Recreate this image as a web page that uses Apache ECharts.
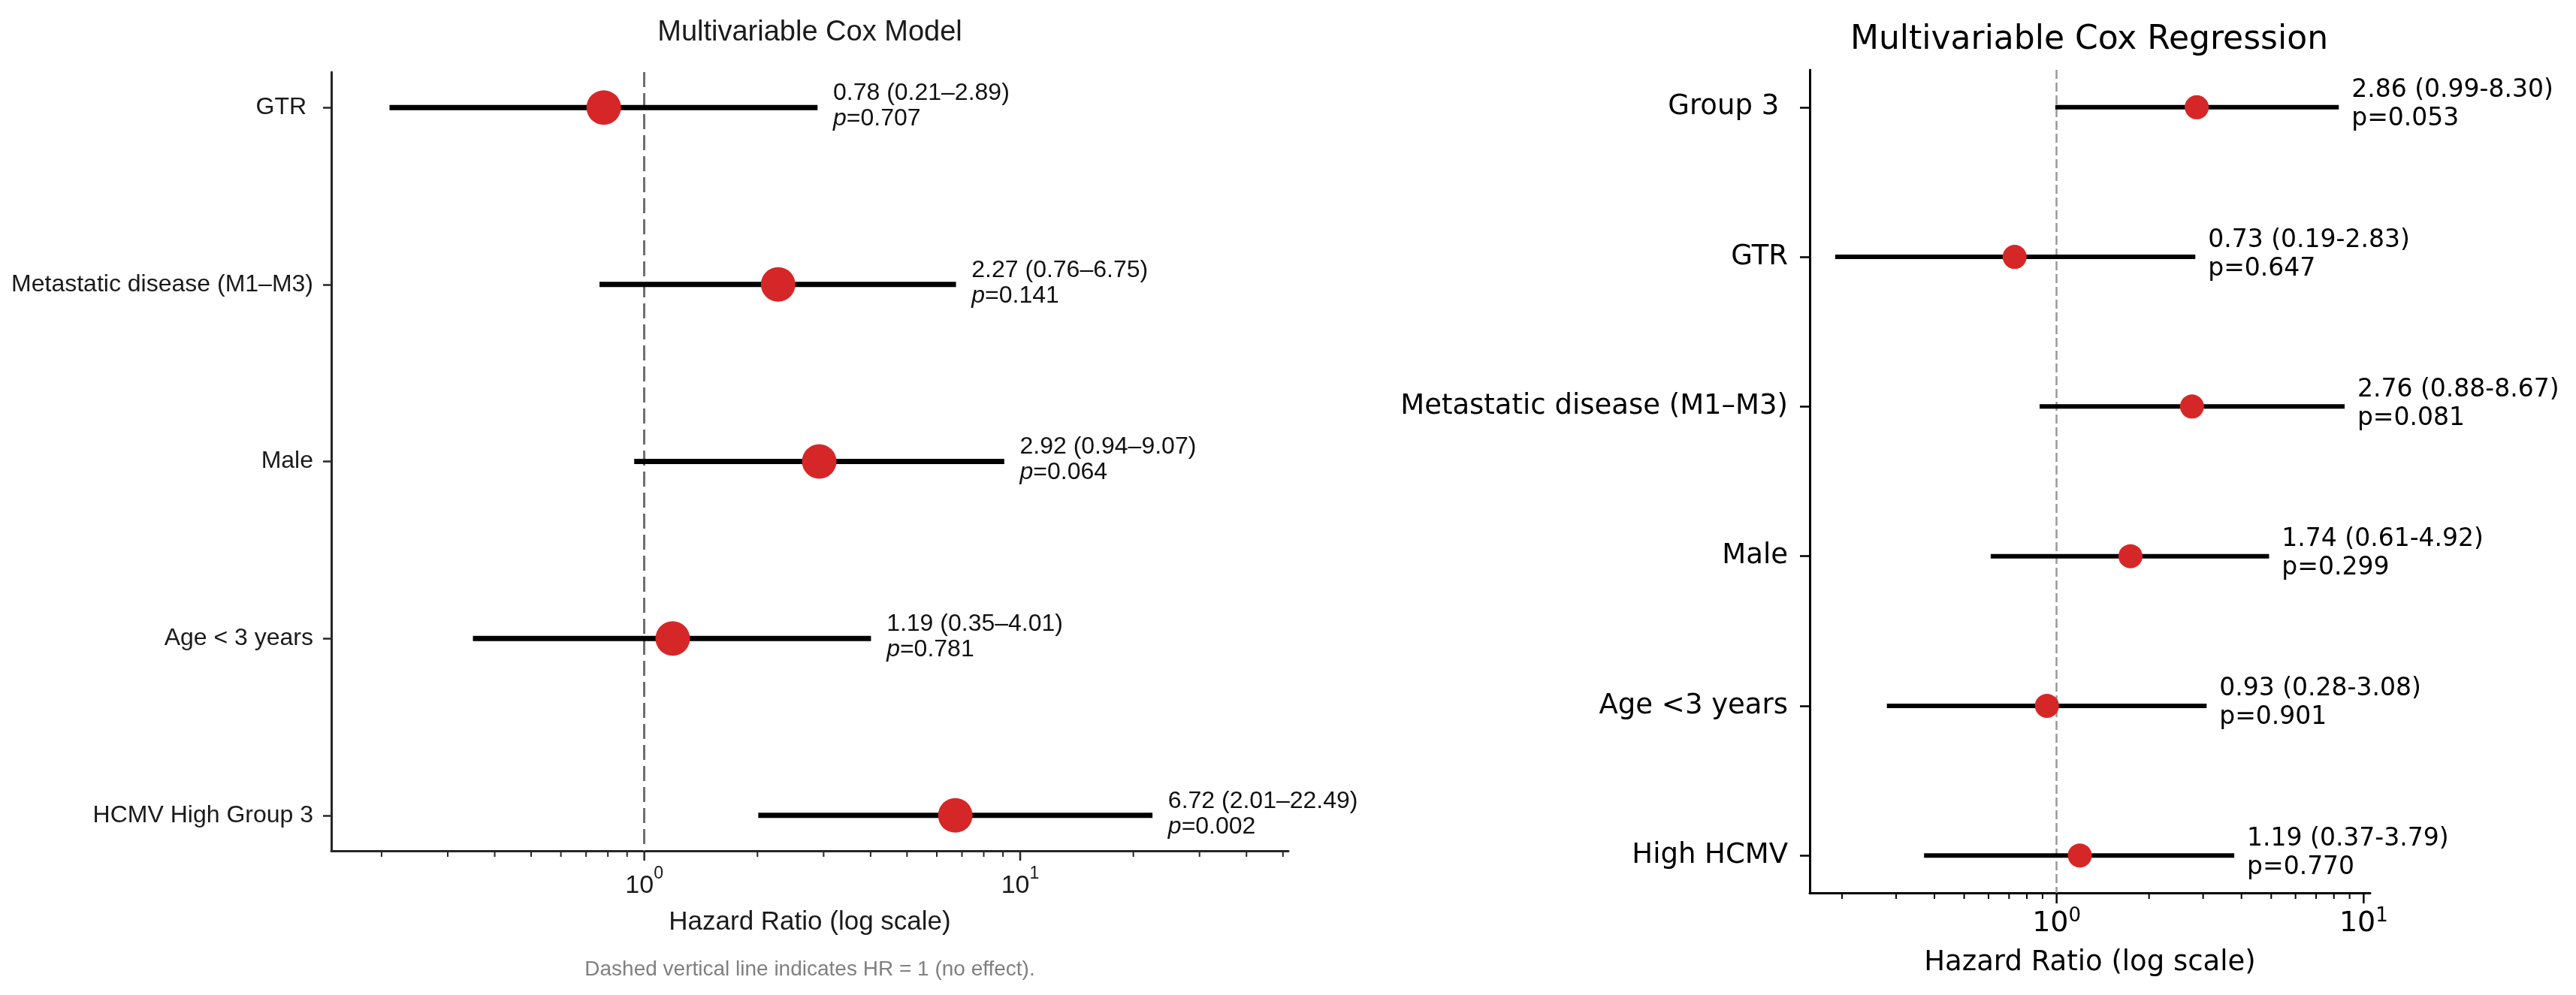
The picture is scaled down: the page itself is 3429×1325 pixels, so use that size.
<!DOCTYPE html>
<html>
<head>
<meta charset="utf-8">
<title>Multivariable Cox</title>
<script src="https://cdn.jsdelivr.net/npm/echarts@6/dist/echarts.min.js"></script>
<style>
  html, body { margin: 0; padding: 0; background: #fff; }
  #main { width: 3429px; height: 1325px; }
</style>
</head>
<body>
<div id="main"></div>
<script>
// left panel - Multivariable Cox Model (top to bottom)
const leftNames = ['GTR ', 'Metastatic disease (M1–M3)', 'Male', 'Age < 3 years', 'HCMV High Group 3'];
const leftHR = [0.78, 2.27, 2.92, 1.19, 6.72];
const leftLo = [0.21, 0.76, 0.94, 0.35, 2.01];
const leftHi = [2.89, 6.75, 9.07, 4.01, 22.49];
const leftP = [0.707, 0.141, 0.064, 0.781, 0.002];

// right panel - Multivariable Cox Regression (top to bottom)
const rightNames = ['Group 3 ', 'GTR', 'Metastatic disease (M1–M3)', 'Male', 'Age <3 years', 'High HCMV'];
const rightHR = [2.86, 0.73, 2.76, 1.74, 0.93, 1.19];
const rightLo = [0.99, 0.19, 0.88, 0.61, 0.28, 0.37];
const rightHi = [8.30, 2.83, 8.67, 4.92, 3.08, 3.79];
const rightP = [0.053, 0.647, 0.081, 0.299, 0.901, 0.770];

// log axis ticks
const majorTicks = [1, 10];
const leftMinorTicks = [0.2, 0.3, 0.4, 0.5, 0.6, 0.7, 0.8, 0.9, 2, 3, 4, 5, 6, 7, 8, 9, 20, 30, 40, 50];
const rightMinorTicks = [0.2, 0.3, 0.4, 0.5, 0.6, 0.7, 0.8, 0.9, 2, 3, 4, 5, 6, 7, 8, 9];

const RED = '#d62728';
const ARIAL = 'Liberation Sans, Arial, sans-serif';
const DEJAVU = 'DejaVu Sans, sans-serif';

// "10^n" labels only on whole powers
function powLabel(v) {
  const e = Math.log10(v);
  if (Math.abs(e - Math.round(e)) > 1e-6) return '';
  return '{b|10}{s|' + Math.round(e) + '}';
}

// CI whiskers, drawn through the axes
function ciSeries(gi, lo, hi, width) {
  return {
    type: 'custom', xAxisIndex: gi, yAxisIndex: gi, z: 3, silent: true,
    data: lo.map((v, i) => [v, hi[i], i]),
    encode: { x: [0, 1], y: 2 },
    renderItem: (params, api) => {
      const a = api.coord([api.value(0), api.value(2)]);
      const b = api.coord([api.value(1), api.value(2)]);
      return {
        type: 'line',
        shape: { x1: a[0], y1: a[1], x2: b[0], y2: b[1] },
        style: { stroke: '#000', lineWidth: width }
      };
    }
  };
}

// log ticks under the x axis
function tickSeries(gi, ticks, len, color, width) {
  return {
    type: 'custom', xAxisIndex: gi, yAxisIndex: gi, z: 3, silent: true,
    data: ticks.map(v => [v, 0]),
    encode: { x: 0, y: 1 },
    renderItem: (params, api) => {
      const x = api.coord([api.value(0), 0])[0];
      const y0 = params.coordSys.y + params.coordSys.height;
      return {
        type: 'line',
        shape: { x1: x, y1: y0, x2: x, y2: y0 + len },
        style: { stroke: color, lineWidth: width }
      };
    }
  };
}

const leftText = leftHR.map((v, i) =>
  '{n|' + v.toFixed(2) + ' (' + leftLo[i].toFixed(2) + '–' + leftHi[i].toFixed(2) + ')}\n' +
  '{i|p}{n|=' + leftP[i].toFixed(3) + '}');
const rightText = rightHR.map((v, i) =>
  '{n|' + v.toFixed(2) + ' (' + rightLo[i].toFixed(2) + '-' + rightHi[i].toFixed(2) + ')}\n' +
  '{n|p=' + rightP[i].toFixed(3) + '}');

const leftRows = leftNames.map((_, i) => i);
const rightRows = rightNames.map((_, i) => i);

const chart = echarts.init(document.getElementById('main'));

chart.setOption({
  animation: false,
  backgroundColor: '#fff',
  title: [
    {
      text: 'Multivariable Cox Model', left: 1078, top: 25, textAlign: 'center', padding: 0,
      textStyle: { fontFamily: ARIAL, fontSize: 38, fontWeight: 'normal', color: '#1a1a1a' }
    },
    {
      text: 'Multivariable Cox Regression', left: 2781, top: 32, textAlign: 'center', padding: 0,
      textStyle: { fontFamily: DEJAVU, fontSize: 44, fontWeight: 'normal', color: '#000' }
    },
    {
      text: 'Dashed vertical line indicates HR = 1 (no effect).', left: 1078, top: 1277,
      textAlign: 'center', padding: 0,
      textStyle: { fontFamily: ARIAL, fontSize: 28, fontWeight: 'normal', color: '#808080' }
    }
  ],
  grid: [
    { left: 441, top: 96, width: 1274, height: 1037 },
    { left: 2409, top: 93, width: 746, height: 1096 }
  ],
  xAxis: [
    {
      gridIndex: 0, type: 'log', logBase: 10, min: 0.147, max: 51.7,
      axisLine: { show: true, onZero: false, lineStyle: { color: '#262626', width: 3 } },
      axisTick: { show: false },
      splitLine: { show: false },
      axisLabel: {
        showMinLabel: false, showMaxLabel: false, margin: 19, formatter: powLabel,
        rich: {
          b: { fontFamily: ARIAL, fontSize: 34, color: '#1a1a1a', verticalAlign: 'bottom' },
          s: { fontFamily: ARIAL, fontSize: 23, color: '#1a1a1a', verticalAlign: 'top', padding: [0, 0, 22, 0] }
        }
      },
      name: 'Hazard Ratio (log scale)', nameLocation: 'middle', nameGap: 78,
      nameTextStyle: { fontFamily: ARIAL, fontSize: 35, color: '#1a1a1a' }
    },
    {
      gridIndex: 1, type: 'log', logBase: 10, min: 0.157, max: 10.5,
      axisLine: { show: true, onZero: false, lineStyle: { color: '#000', width: 3 } },
      axisTick: { show: false },
      splitLine: { show: false },
      axisLabel: {
        showMinLabel: false, showMaxLabel: false, margin: 18, formatter: powLabel,
        rich: {
          b: { fontFamily: DEJAVU, fontSize: 38, color: '#000', verticalAlign: 'bottom' },
          s: { fontFamily: DEJAVU, fontSize: 26, color: '#000', verticalAlign: 'top', padding: [0, 0, 16, 0] }
        }
      },
      name: 'Hazard Ratio (log scale)', nameLocation: 'middle', nameGap: 75,
      nameTextStyle: { fontFamily: DEJAVU, fontSize: 37, color: '#000' }
    }
  ],
  yAxis: [
    {
      gridIndex: 0, type: 'value', min: -0.2, max: 4.2, inverse: true,
      axisLine: { show: true, onZero: false, lineStyle: { color: '#262626', width: 3 } },
      axisTick: { show: true, customValues: leftRows, length: 11, lineStyle: { color: '#262626', width: 2.5 } },
      axisLabel: {
        customValues: leftRows, margin: 24, formatter: v => leftNames[Math.round(v)],
        fontFamily: ARIAL, fontSize: 32, color: '#1a1a1a'
      },
      splitLine: { show: false }
    },
    {
      gridIndex: 1, type: 'value', min: -0.25, max: 5.25, inverse: true,
      axisLine: { show: true, onZero: false, lineStyle: { color: '#000', width: 3 } },
      axisTick: { show: true, customValues: rightRows, length: 13, lineStyle: { color: '#000', width: 2.5 } },
      axisLabel: {
        customValues: rightRows, margin: 29, formatter: v => rightNames[Math.round(v)],
        fontFamily: DEJAVU, fontSize: 37, color: '#000'
      },
      splitLine: { show: false }
    }
  ],
  series: [
    // left panel
    tickSeries(0, majorTicks, 13, '#262626', 2.5),
    tickSeries(0, leftMinorTicks, 8, '#262626', 2),
    ciSeries(0, leftLo, leftHi, 7),
    {
      type: 'scatter', xAxisIndex: 0, yAxisIndex: 0, z: 4, silent: true,
      symbolSize: 46, itemStyle: { color: RED, opacity: 1 },
      data: leftHR.map((v, i) => [v, i])
    },
    {
      type: 'scatter', xAxisIndex: 0, yAxisIndex: 0, z: 4, silent: true, symbolSize: 0,
      data: leftHi.map((v, i) => [v * 1.1, i]),
      label: {
        show: true, position: 'right', distance: 0, offset: [0, -2],
        color: '#111', opacity: 1,
        formatter: p => leftText[p.dataIndex],
        rich: {
          n: { fontFamily: ARIAL, fontSize: 32, lineHeight: 34, color: '#111' },
          i: { fontFamily: ARIAL, fontSize: 32, lineHeight: 34, color: '#111', fontStyle: 'italic' }
        }
      },
      markLine: {
        silent: true, symbol: 'none', z: 1, label: { show: false },
        lineStyle: { type: [20, 8], color: '#6e6e6e', width: 3 },
        data: [{ xAxis: 1 }]
      }
    },
    // right panel
    tickSeries(1, majorTicks, 14, '#000', 2.5),
    tickSeries(1, rightMinorTicks, 8, '#000', 2),
    ciSeries(1, rightLo, rightHi, 6),
    {
      type: 'scatter', xAxisIndex: 1, yAxisIndex: 1, z: 4, silent: true,
      symbolSize: 32, itemStyle: { color: RED, opacity: 1 },
      data: rightHR.map((v, i) => [v, i])
    },
    {
      type: 'scatter', xAxisIndex: 1, yAxisIndex: 1, z: 4, silent: true, symbolSize: 0,
      data: rightHi.map((v, i) => [v * 1.1, i]),
      label: {
        show: true, position: 'right', distance: 0, offset: [0, -3],
        color: '#000', opacity: 1,
        formatter: p => rightText[p.dataIndex],
        rich: {
          n: { fontFamily: DEJAVU, fontSize: 33, lineHeight: 38, color: '#000' }
        }
      },
      markLine: {
        silent: true, symbol: 'none', z: 1, label: { show: false },
        lineStyle: { type: [12, 5], color: '#999', width: 2.5 },
        data: [{ xAxis: 1 }]
      }
    }
  ]
});
</script>
</body>
</html>
